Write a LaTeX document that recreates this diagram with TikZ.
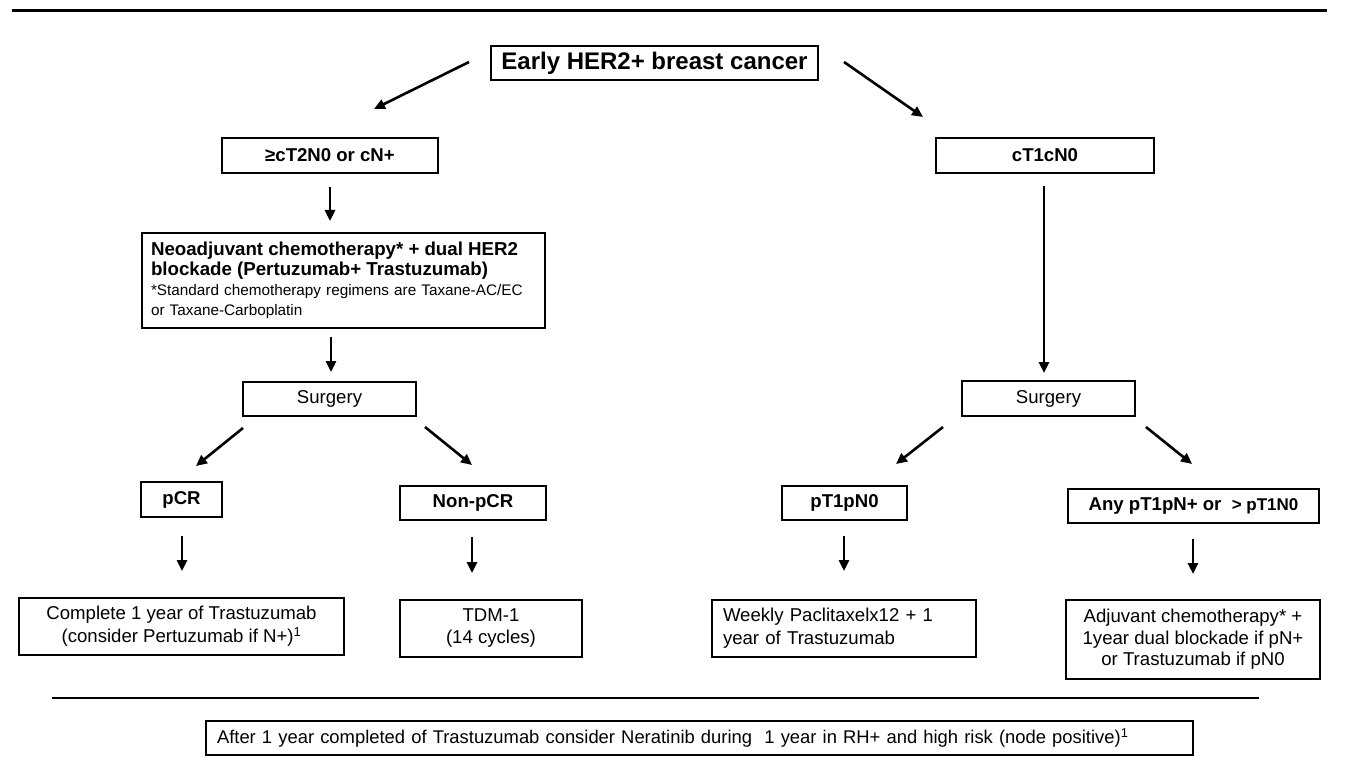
\documentclass[tikz,border=0pt]{standalone}
\usepackage{fontspec}
\setmainfont{Liberation Sans}
\usetikzlibrary{arrows.meta}
\begin{document}
\begin{tikzpicture}[x=1pt,y=-1pt,
  box/.style={draw=black, line width=1.2pt, rectangle, inner sep=0pt, align=center},
  arr/.style={line width=2.6pt, -{Triangle[length=11pt,width=10pt]}},
  bf/.style={font=\bfseries\fontsize{18.6}{22}\selectfont},
  rg/.style={font=\fontsize{18.6}{23}\selectfont}]
\useasboundingbox (0,0) rectangle (1352,770);
% rules
\coordinate (t1) at (12,11); \coordinate (t2) at (1327,11);
\draw[line width=3pt] (t1) -- (t2);
\coordinate (b1) at (52,698); \coordinate (b2) at (1259,698);
\draw[line width=1.2pt] (b1) -- (b2);
% nodes
\node[box,font=\bfseries\fontsize{24}{28}\selectfont,minimum width=327pt,minimum height=34pt] (early) at (654.5,63) {Early HER2+ breast cancer};
\node[box,bf,minimum width=216pt,minimum height=35pt] (ct2) at (330,155.5) {≥cT2N0 or cN+};
\node[box,bf,minimum width=218pt,minimum height=35pt] (ct1) at (1045,155.5) {cT1cN0};
\node[box,align=left,text width=385pt,inner xsep=9pt,minimum height=95pt,font=\fontsize{15.3}{20}\selectfont] (neo) at (343.5,280.5)
 {{\bfseries\fontsize{18.7}{20}\selectfont Neoadjuvant chemotherapy* + dual HER2\\{}blockade (Pertuzumab+ Trastuzumab)}\\{}*Standard chemotherapy regimens are Taxane-AC/EC\\{}or Taxane-Carboplatin};
\node[box,rg,minimum width=173pt,minimum height=34pt] (surgL) at (329.5,399) {Surgery};
\node[box,rg,minimum width=173pt,minimum height=35pt] (surgR) at (1048.5,398.5) {Surgery};
\node[box,bf,minimum width=81pt,minimum height=35pt] (pcr) at (181.5,499.5) {pCR};
\node[box,bf,minimum width=146pt,minimum height=34pt] (npcr) at (473,503) {Non-pCR};
\node[box,bf,minimum width=125pt,minimum height=34pt] (pt1) at (844.5,503) {pT1pN0};
\node[box,bf,minimum width=251pt,minimum height=34pt] (any) at (1193.5,506) {Any pT1pN+ or\ \ {\fontsize{17}{20}\selectfont > pT1N0}};
\node[box,rg,minimum width=325pt,minimum height=57pt] (compl) at (181.5,626.5) {Complete 1 year of Trastuzumab\\(consider Pertuzumab if N+)\textsuperscript{1}};
\node[box,font=\fontsize{18.6}{22}\selectfont,minimum width=182pt,minimum height=57pt] (tdm) at (491,628.5) {TDM-1\\(14 cycles)};
\node[box,rg,align=left,text width=242pt,inner xsep=11pt,minimum height=57pt] (weekly) at (844,628.5) {Weekly Paclitaxelx12 + 1\\year of Trastuzumab};
\node[box,font=\fontsize{18.6}{21.5}\selectfont,minimum width=254pt,minimum height=79pt] (adj) at (1193,639.5) {Adjuvant chemotherapy* +\\1year dual blockade if pN+\\or Trastuzumab if pN0};
\node[box,font=\fontsize{18.4}{22}\selectfont,align=left,text width=965pt,inner xsep=11pt,minimum height=34pt] (nera) at (699.5,738) {After 1 year completed of Trastuzumab consider Neratinib during\ \ 1 year in RH+ and high risk (node positive)\textsuperscript{1}};
% arrow end points
\coordinate (a1s) at (469,62);  \coordinate (a1e) at (374,109);
\coordinate (a2s) at (844,62);  \coordinate (a2e) at (923,117);
\coordinate (a3s) at (330,187); \coordinate (a3e) at (330,221);
\coordinate (a4s) at (1044,186); \coordinate (a4e) at (1044,373);
\coordinate (a5s) at (331,337); \coordinate (a5e) at (331,372);
\coordinate (a6s) at (243,428); \coordinate (a6e) at (196,466);
\coordinate (a7s) at (425,427); \coordinate (a7e) at (472,465);
\coordinate (a8s) at (943,427); \coordinate (a8e) at (896,464);
\coordinate (a9s) at (1146,427); \coordinate (a9e) at (1192,464);
\coordinate (a10s) at (182,536); \coordinate (a10e) at (182,571);
\coordinate (a11s) at (472,537); \coordinate (a11e) at (472,573);
\coordinate (a12s) at (844,536); \coordinate (a12e) at (844,571);
\coordinate (a13s) at (1193,539); \coordinate (a13e) at (1193,574);
\foreach \i in {1,...,13} {\draw[arr] (a\i s) -- (a\i e);}
\end{tikzpicture}
\end{document}
